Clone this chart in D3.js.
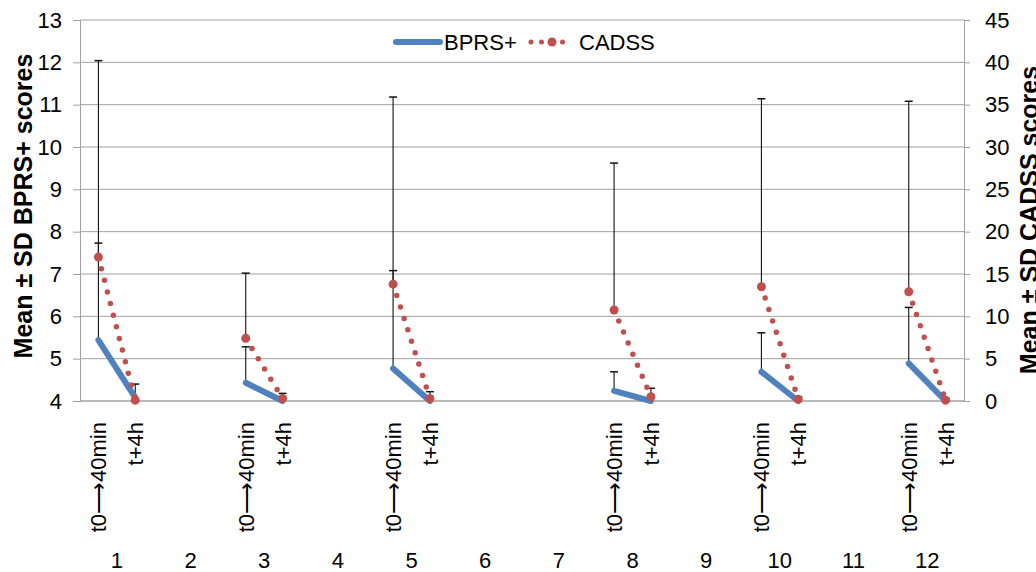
<!DOCTYPE html>
<html>
<head>
<meta charset="utf-8">
<title>BPRS+ / CADSS</title>
<script src="https://cdn.jsdelivr.net/npm/d3@7"></script>
<style>
    body { margin: 0; background: #fff; }
    text { font-family: "Liberation Sans", Arial, sans-serif; fill: #000; }
</style>
</head>
<body>
<svg id="chart" width="1036" height="572"></svg>
<script>
    // patients on the category axis, two time points each
    var patients = [1, 2, 3, 4, 5, 6, 7, 8, 9, 10, 11, 12];
    var timeLabels = ["t0\u27F640min", "t+4h"];
    var leftTicks = [4, 5, 6, 7, 8, 9, 10, 11, 12, 13];
    var rightTicks = [0, 5, 10, 15, 20, 25, 30, 35, 40, 45];

    // BPRS+ (left axis)
    var bprsT0   = [5.44, null, 4.43, null, 4.77, null, null, 4.24, null, 4.69, null, 4.89];
    var bprsT4   = [4.08, null, 4.00, null, 4.00, null, null, 4.00, null, 4.00, null, 4.00];
    var bprsSdT0 = [2.29, null, 0.85, null, 2.31, null, null, 0.45, null, 0.92, null, 1.32];
    var bprsSdT4 = [0.32, null, 0.18, null, 0.22, null, null, 0.30, null, 0.10, null, 0.06];

    // CADSS (right axis)
    var cadssT0   = [17.0, null, 7.4, null, 13.8, null, null, 10.75, null, 13.5, null, 12.9];
    var cadssT4   = [0.1, null, 0.3, null, 0.3, null, null, 0.5, null, 0.2, null, 0.1];
    var cadssSdT0 = [23.2, null, 7.7, null, 22.1, null, null, 17.35, null, 22.2, null, 22.5];

    var blue = "#4f81bd", red = "#c0504d", grid = "#a0a0a0";
    var pLeft = 80, pRight = 964, pTop = 20, pBottom = 401;

    var svg = d3.select("#chart");

    var slots = [];
    patients.forEach(function(p) { slots.push(p + "a"); slots.push(p + "b"); });

    var x = d3.scaleBand().domain(slots).range([pLeft, pRight]);
    var cx = function(p, k) { return x(p + (k ? "b" : "a")) + x.bandwidth() / 2; };
    var yL = d3.scaleLinear().domain([4, 13]).range([pBottom, pTop]);
    var yR = d3.scaleLinear().domain([0, 45]).range([pBottom, pTop]);

    // gridlines
    svg.append("g").selectAll("line")
        .data(leftTicks)
        .enter().append("line")
        .attr("x1", pLeft).attr("x2", pRight)
        .attr("y1", function(d) { return yL(d); })
        .attr("y2", function(d) { return yL(d); })
        .attr("stroke", grid).attr("stroke-width", 1);

    // axes
    var axL = svg.append("g").attr("transform", "translate(" + pLeft + ",0)")
        .call(d3.axisLeft(yL).tickValues(leftTicks).tickSize(7).tickPadding(11));
    var axR = svg.append("g").attr("transform", "translate(" + pRight + ",0)")
        .call(d3.axisRight(yR).tickValues(rightTicks).tickSize(6).tickPadding(15));
    [axL, axR].forEach(function(a) {
        a.selectAll("path, line").attr("stroke", grid);
        a.selectAll("text").style("font-size", "22px").attr("fill", "#000");
    });
    svg.append("line").attr("x1", pLeft).attr("x2", pRight)
        .attr("y1", pBottom).attr("y2", pBottom).attr("stroke", grid);

    var idx = patients.map(function(p, i) { return i; })
        .filter(function(i) { return bprsT0[i] !== null; });

    // category labels
    var sub = svg.append("g");
    idx.forEach(function(i) {
        [0, 1].forEach(function(k) {
            var px = cx(patients[i], k), py = 422;
            sub.append("text")
                .attr("transform", "translate(" + px + "," + py + ") rotate(-90)")
                .attr("text-anchor", "end")
                .attr("dy", "0.36em")
                .style("font-size", "22px")
                .text(timeLabels[k]);
        });
    });
    svg.append("g").selectAll("text")
        .data(patients)
        .enter().append("text")
        .attr("x", function(p) { return (cx(p, 0) + cx(p, 1)) / 2; })
        .attr("y", 568)
        .attr("text-anchor", "middle")
        .style("font-size", "22px")
        .text(function(p) { return p; });

    // error bars (plus direction only)
    function errBar(g, px, y0, y1) {
        g.append("line").attr("x1", px).attr("x2", px).attr("y1", y0).attr("y2", y1)
            .attr("stroke", "#111").attr("stroke-width", 1.1);
        g.append("line").attr("x1", px - 4).attr("x2", px + 4).attr("y1", y1).attr("y2", y1)
            .attr("stroke", "#111").attr("stroke-width", 1.5);
    }

    var lineL = d3.line().x(function(d) { return d[0]; }).y(function(d) { return yL(d[1]); });
    var lineR = d3.line().x(function(d) { return d[0]; }).y(function(d) { return yR(d[1]); });

    // BPRS+
    var gb = svg.append("g");
    idx.forEach(function(i) {
        var p = patients[i];
        errBar(gb, cx(p, 0), yL(bprsT0[i]), yL(bprsT0[i] + bprsSdT0[i]));
        errBar(gb, cx(p, 1), yL(bprsT4[i]), yL(bprsT4[i] + bprsSdT4[i]));
        gb.append("path")
            .attr("d", lineL([[cx(p, 0), bprsT0[i]], [cx(p, 1), bprsT4[i]]]))
            .attr("fill", "none").attr("stroke", blue).attr("stroke-width", 6)
            .attr("stroke-linecap", "round");
    });

    // CADSS
    var gc = svg.append("g");
    idx.forEach(function(i) {
        var p = patients[i];
        errBar(gc, cx(p, 0), yR(cadssT0[i]), yR(cadssT0[i] + cadssSdT0[i]));
        gc.append("path")
            .attr("d", lineR([[cx(p, 0), cadssT0[i]], [cx(p, 1), cadssT4[i]]]))
            .attr("fill", "none").attr("stroke", red).attr("stroke-width", 5.5)
            .attr("stroke-linecap", "round").attr("stroke-dasharray", "0 12");
        gc.append("circle").attr("cx", cx(p, 0)).attr("cy", yR(cadssT0[i])).attr("r", 4.5).attr("fill", red);
        gc.append("circle").attr("cx", cx(p, 1)).attr("cy", yR(cadssT4[i])).attr("r", 4.5).attr("fill", red);
    });

    // axis titles
    svg.append("text")
        .attr("transform", "translate(32,206) rotate(-90)")
        .attr("text-anchor", "middle")
        .style("font-size", "25px").style("font-weight", "bold")
        .text("Mean \u00B1 SD BPRS+ scores");
    svg.append("text")
        .attr("transform", "translate(1038,220) rotate(-90)")
        .attr("text-anchor", "middle")
        .style("font-size", "25px").style("font-weight", "bold")
        .text("Mean \u00B1 SD CADSS scores");

    // legend
    var lg = svg.append("g");
    lg.append("line").attr("x1", 396).attr("x2", 440).attr("y1", 42).attr("y2", 42)
        .attr("stroke", blue).attr("stroke-width", 6).attr("stroke-linecap", "round");
    lg.append("text").attr("x", 444).attr("y", 50).style("font-size", "22px").text("BPRS+");
    lg.append("line").attr("x1", 531).attr("x2", 573).attr("y1", 42).attr("y2", 42)
        .attr("stroke", red).attr("stroke-width", 5).attr("stroke-linecap", "round")
        .attr("stroke-dasharray", "0 10.5");
    lg.append("circle").attr("cx", 552).attr("cy", 42).attr("r", 4.5).attr("fill", red);
    lg.append("text").attr("x", 579).attr("y", 50).style("font-size", "22px").text("CADSS");
</script>
</body>
</html>
